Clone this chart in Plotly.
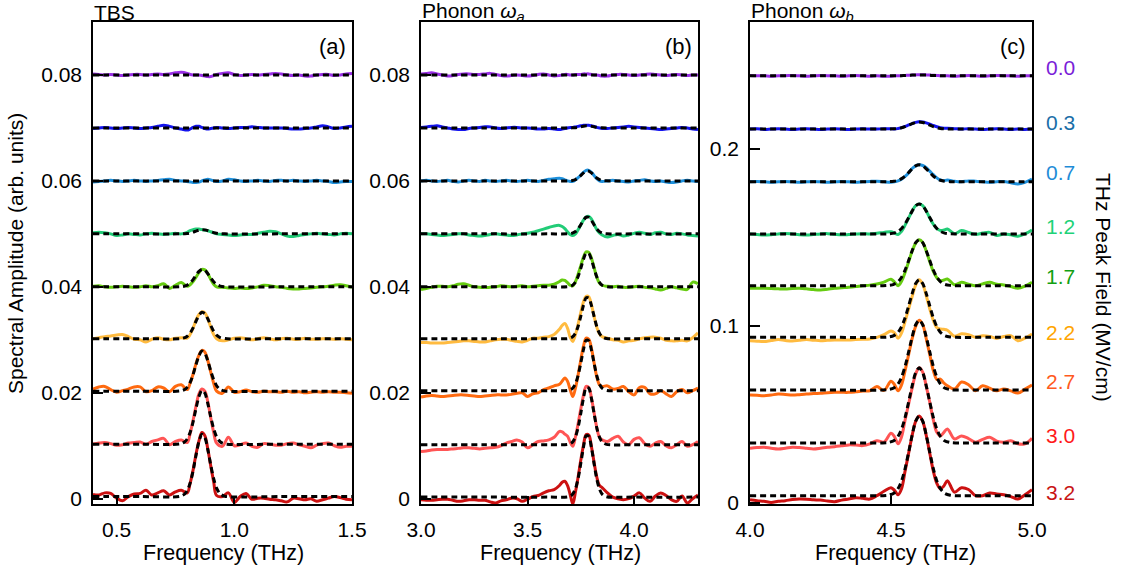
import plotly.graph_objects as go

FONT = "Liberation Sans, Arial, sans-serif"

# THz peak fields (MV/cm), bottom trace first
fields = ["3.2", "3.0", "2.7", "2.2", "1.7", "1.2", "0.7", "0.3", "0.0"]
line_colors = ["#cc1111", "#ff5555", "#ff6a10", "#ffbb40", "#66cc11",
               "#22cc77", "#1e90dc", "#1414ee", "#9a30e6"]
label_colors = ["#c81414", "#ff1a1a", "#ff5a1e", "#ffa500", "#12a012",
                "#1ed278", "#1e8cd7", "#1a6ea8", "#7a1ed8"]

# ---------------- Panel (a): TBS ----------------
xa = [0.400, 0.425, 0.450, 0.475, 0.500, 0.525, 0.550, 0.575, 0.600, 0.625,
      0.650, 0.675, 0.700, 0.725, 0.750, 0.775, 0.800,
      0.8125, 0.825, 0.8375, 0.850, 0.8625, 0.875, 0.8875, 0.900, 0.9125, 0.925,
      0.950, 0.975, 1.000, 1.025, 1.050, 1.075, 1.100, 1.125, 1.150, 1.175,
      1.200, 1.225, 1.250, 1.275, 1.300, 1.325, 1.350, 1.375, 1.400, 1.425,
      1.450, 1.475, 1.500]
offsets_a = [0.0004, 0.0103, 0.0203, 0.0302, 0.0400, 0.0500, 0.0600, 0.0700, 0.0800]
# deviations from the offset, units of 1e-4
a_32 = [4, 3, 7, 6, -3, -8, 0, 5, 6, 12, 3, 7, 11, 3, 9, 12, 7,
        25, 50, 80, 105, 121, 115, 90, 58, 28, 2,
        0, 7, -11, 0, 6, -5, -3, -3, -5, -6, -8, -10, -3, -4, -6, -4, -9, -6, -3, 0, -2, -5, -6]
a_30 = [0, 2, 3, 1, -2, -1, 2, 3, 4, 0, 5, 8, 11, -1, 5, 8, 3,
        20, 45, 72, 95, 104, 100, 80, 50, 22, 2,
        -4, 13, -3, -1, 2, -4, -6, 1, 0, -2, -2, 1, 2, -1, -4, -7, -2, 1, 2, -3, -6, -4, -4]
a_27 = [4, 8, 9, 3, -2, 1, 4, 8, 8, -1, 1, 8, 6, -1, 9, 12, 3,
        15, 32, 52, 68, 77, 74, 58, 36, 15, 0,
        -4, 8, -2, -1, 2, -1, -2, 0, -1, -1, -2, 0, -2, -1, -3, -2, -1, -2, -1, -2, -2, -3, -4]
a_22 = [0, 2, 4, 5, 7, 8, 4, -1, -2, -6, -1, 2, -1, -2, 1, 2, 1,
        8, 20, 35, 46, 51, 49, 38, 22, 8, 0,
        -4, -2, 1, 2, 0, -2, 0, 2, 0, -2, 0, 1, -1, -1, 1, -1, -1, 0, 0, -1, 0, -1, -2]
a_17 = [1, 2, 0, -1, 0, 1, 0, -1, 0, 2, 0, 2, 6, -3, 3, 8, 1,
        4, 10, 18, 27, 33, 32, 25, 14, 5, 0,
        -1, -2, -3, -2, -3, -2, 0, 3, 2, 0, -1, -3, -4, -4, -3, -2, -1, 0, 1, 3, 4, 2, -1]
a_12 = [2, 3, 2, 0, -3, -2, 0, -1, -2, 0, 1, 0, -1, 0, 1, 0, 3,
        6, 8, 9, 9, 8, 7, 6, 4, 2, 0,
        -1, -2, -3, -2, -1, -1, 1, 3, 5, 4, 0, -4, -5, -3, -1, 0, 1, 0, -1, -2, 0, 1, 0]
a_07 = [-2, -1, 0, 1, 0, -1, 0, 1, 0, -1, 0, 1, 2, 3, 1, 0, -1,
        -2, -3, -3, -2, 0, 2, 3, 2, 0, -1,
        0, 3, 2, 0, -1, 0, 1, 0, -1, 1, 1, 0, 1, 0, -1, 0, 1, 0, -1, -3, -2, -1, -1]
a_03 = [-1, 0, 1, 0, -1, 0, 1, 0, -1, 0, 1, 3, 5, 3, 0, -2, -4,
        -2, 1, 3, 3, 1, -1, -2, -1, 0, 1,
        0, -1, 0, 1, 1, 2, 1, 0, 0, 0, 0, -1, -2, -2, -1, 0, 2, 4, 2, -1, 0, 2, 3]
a_00 = [2, 1, 0, 1, 0, -1, 0, 1, 1, 0, 1, 2, 1, 2, 4, 5, 3,
        1, 0, 0, 0, -1, -2, -3, -3, -1, 1,
        3, 4, 1, -1, 0, 1, 0, 1, 2, 3, 2, 0, -1, 0, -2, -2, 0, 1, 1, -1, 0, 2, 3]
fit_xa = [0.40, 0.60, 0.77, 0.79, 0.80, 0.8125, 0.825, 0.8375, 0.85, 0.8625, 0.875,
          0.8875, 0.90, 0.9125, 0.925, 0.94, 0.96, 1.20, 1.50]
fit_shape_a = [0, 0, 0.005, 0.044, 0.095, 0.216, 0.41, 0.66, 0.88, 0.997, 0.946,
               0.755, 0.506, 0.286, 0.135, 0.044, 0.005, 0, 0]
fit_amp_a = [118, 102, 76, 50, 33, 8, 0, 0, 0]

# ---------------- Panel (b): Phonon wa ----------------
xb = [3.000, 3.025, 3.050, 3.075, 3.100, 3.125, 3.150, 3.175, 3.200, 3.225,
      3.250, 3.275, 3.300, 3.325, 3.350, 3.375, 3.400, 3.425, 3.450, 3.475,
      3.500, 3.525, 3.550, 3.575, 3.600,
      3.625, 3.650, 3.6625, 3.675, 3.6875, 3.700, 3.7125, 3.725, 3.7375, 3.750,
      3.7625, 3.775, 3.7875, 3.800, 3.8125, 3.825, 3.8375, 3.850,
      3.875, 3.900, 3.925, 3.950, 3.975, 4.000, 4.025, 4.050, 4.075, 4.100,
      4.125, 4.150, 4.175, 4.200, 4.225, 4.250, 4.275, 4.300]
offsets_b = [0.0003, 0.0102, 0.0204, 0.0302, 0.0400, 0.0500, 0.0600, 0.0700, 0.0800]
b_32 = [-5, -6, -6, -5, -4, -4, -6, -8, -7, -5, -5, -6, -6, -9, -11, -7, -5, -2, -3, -8, -4, 1, 3, 8, 12,
        14, 22, 28, 30, 22, 5, -13, 10, 38, 70, 98, 118, 117, 95, 65, 38, 22, 18,
        8, 0, -3, -5, -3, 2, 8, -2, -8, 2, 8, 3, -5, -8, 2, -11, -3, 4]
b_30 = [-13, -12, -10, -9, -9, -9, -8, -7, -6, -6, -7, -8, -7, -6, -5, -2, 3, 6, 9, 5, -6, 0, 6, 7, 9,
        14, 25, 24, 20, 16, 5, -3, 15, 40, 68, 93, 110, 108, 88, 60, 32, 14, 9,
        6, 12, 16, 5, 0, 10, 13, 2, -3, 3, 6, -2, -6, 0, 6, -3, 0, 6]
b_27 = [-12, -10, -9, -10, -11, -10, -9, -8, -8, -9, -10, -11, -10, -9, -8, -8, -8, -7, -5, -4, -11, -6, -4, 2, 5,
        9, 12, 18, 24, 18, 2, -11, 5, 30, 58, 84, 99, 97, 80, 52, 26, 11, 8,
        9, 3, 4, 8, -2, -8, 6, 6, -6, -6, 0, -6, -11, -2, 2, -4, 0, 5]
b_22 = [-7, -7, -8, -8, -8, -7, -6, -5, -4, -4, -5, -6, -6, -4, -2, -1, -1, -3, -5, -6, -3, 1, 1, 3, 4,
        8, 18, 25, 29, 20, 3, -5, 8, 28, 50, 70, 80, 79, 64, 42, 22, 9, 4,
        1, -2, -3, -6, -4, -3, 0, 2, 3, 3, 1, -3, -4, -4, -3, -4, 2, 11]
b_17 = [-5, -3, -1, 1, 1, 0, 2, 5, 6, 3, 0, -1, -1, -1, 0, 2, 1, 0, 1, 2, 0, 1, 2, 3, 3,
        5, 10, 13, 12, 8, 3, 2, 10, 24, 40, 56, 66, 65, 54, 36, 18, 7, 3,
        1, 0, 1, -1, -1, 0, 1, -1, -2, -4, -6, -3, 0, -2, -4, -5, 9, 6]
b_12 = [0, 0, -1, -2, -3, -2, -1, 0, 0, -2, -3, -4, -3, -1, 0, -1, -2, -3, -2, 0, 1, 3, 6, 9, 12,
        15, 16, 14, 10, 4, -1, -3, 0, 8, 17, 26, 32, 33, 28, 18, 8, 2, -2,
        -6, -3, -1, -4, -2, 1, 3, 1, -1, 2, 3, 0, -1, 1, 0, -2, -3, -4]
b_07 = [0, 1, 0, -1, 0, 1, -1, -2, 0, 1, 0, -1, 1, 0, -1, 0, 1, 0, -1, 0, 1, 0, -1, 1, 3,
        4, 5, 4, 2, 0, -1, -1, 2, 6, 11, 16, 20, 20, 16, 10, 4, 0, -1,
        0, 1, 0, -1, -2, 0, 1, 2, 0, -1, 0, -2, -3, -2, 0, 1, 0, -1]
b_03 = [1, 2, 3, 4, 2, 0, -2, -3, -3, -1, 0, 1, 2, 2, 0, -1, 0, 1, 1, 0, 0, -1, -2, -2, -1,
        -2, -3, -2, -1, 0, 1, 1, 2, 3, 4, 5, 5, 5, 4, 3, 1, 0, -1,
        -1, 0, 1, 2, 3, 2, 1, 0, -1, -2, -3, -2, -1, 0, 1, 0, -2, -3]
b_00 = [2, 3, 4, 2, 0, -2, -1, 1, 2, 2, 1, 1, 2, 3, 1, -1, -2, -1, 0, -1, -2, -1, 1, 2, 0,
        -2, -1, 0, 1, 1, 0, 0, 1, 1, 1, 2, 2, 2, 1, 0, 0, -1, -2,
        -2, 0, 1, 1, 0, -1, 0, 1, 2, 1, 0, -1, 0, 1, 0, -1, 0, 0]
fit_xb = [3.00, 3.30, 3.60, 3.69, 3.71, 3.725, 3.7375, 3.75, 3.7625, 3.775, 3.7875,
          3.80, 3.8125, 3.825, 3.8375, 3.85, 3.87, 4.00, 4.30]
fit_shape_b = [0, 0, 0, 0.005, 0.04, 0.135, 0.30, 0.54, 0.80, 0.98, 0.97,
               0.79, 0.53, 0.29, 0.13, 0.048, 0.006, 0, 0]
fit_amp_b = [118, 110, 97, 79, 65, 32, 19, 4, 0]

# ---------------- Panel (c): Phonon wb ----------------
xc = [4.000, 4.025, 4.050, 4.075, 4.100, 4.125, 4.150, 4.175, 4.200, 4.225,
      4.250, 4.275, 4.300, 4.325, 4.350, 4.375, 4.400, 4.425, 4.450, 4.475, 4.500,
      4.5125, 4.525, 4.5375, 4.550, 4.5625, 4.575, 4.5875, 4.600, 4.6125, 4.625,
      4.6375, 4.650, 4.6625, 4.675, 4.6875, 4.700,
      4.725, 4.750, 4.775, 4.800, 4.825, 4.850, 4.875, 4.900, 4.925, 4.950, 4.975, 5.000]
offsets_c = [0.0041, 0.0339, 0.0638, 0.0936, 0.1228, 0.1520, 0.1815, 0.2113, 0.2414]
# deviations from the offset, units of 1e-3
c_32 = [-2.3, -2.8, -3.2, -3.8, -3.2, -2.8, -2.2, -1.9, -2.0, -2.3, -2.5, -3.0, -3.4, -2.5, -1.9, -1.2, -1.5, -1.9, 0, 2.5, 4.5,
        3.0, 0.5, 4, 14, 24, 34, 42, 45, 42, 34, 24, 14, 7, 4, 5.5, 8.5,
        2.0, 4.5, 3.5, 0, 0, 1.5, 1.0, 0.5, -0.5, -1.9, 0.5, 3.4]
c_30 = [-3.0, -2.6, -2.4, -3.0, -3.4, -3.0, -2.4, -2.6, -3.0, -3.4, -3.0, -2.4, -2.1, -1.6, -1.1, -1.2, -1.5, -0.5, 1.3, 0.5, 5.5,
        3.5, -0.5, 3.5, 13, 22, 31, 39, 42.5, 40, 32, 23, 13, 6, 4, 6, 7.9,
        2.3, 4.0, 2.5, 0.4, 2.0, 3.2, 1.0, 0.4, 1.3, -0.5, -0.5, 2.6]
c_27 = [-2.8, -3.0, -3.2, -2.8, -2.3, -2.5, -2.8, -2.6, -2.3, -2.0, -1.8, -1.5, -1.3, -1.3, -1.3, -1.0, -0.6, -0.4, 2.0, -0.2, 5.0,
        3.0, -0.4, 3.0, 11, 20, 29, 36, 39.5, 37, 29, 20, 11, 6, 6.2, 4, 2.4,
        0.6, 4.5, 3.0, -0.4, 2.4, 1.0, -0.4, 0.6, -0.5, -1.7, 0.5, 2.8]
c_22 = [-1.9, -2.2, -2.4, -1.8, -1.3, -1.8, -2.1, -1.7, -1.3, -1.6, -1.9, -1.7, -1.5, -1.5, -1.5, -1.3, -1.1, -0.9, 0, 1.5, 3.6,
        2.5, -0.5, 2.5, 9, 16, 23, 29.5, 32.5, 30, 23.5, 16, 9.5, 5.5, 4.7, 4.5, 4.0,
        0.6, 2.0, 1.5, 0, 0.9, 0.5, -0.6, 0.5, 0.9, -1.9, -0.5, 1.9]
c_17 = [-1.5, -1.5, -1.5, -1.6, -1.8, -1.9, -1.6, -1.5, -1.8, -2.2, -2.4, -2.0, -1.5, -1.2, -0.9, -0.5, 0, 0.3, 0.9, 2.0, 3.6,
        2.0, 0, 2.5, 7.5, 13.5, 19.5, 24, 26, 24.5, 19.5, 13.5, 8, 4.5, 2.8, 3.2, 3.8,
        0.5, 1.9, 0.8, 0, 1.0, 1.9, 0.8, 0.4, -0.5, -1.5, -0.3, 1.9]
c_12 = [0, -0.3, -0.6, -0.4, 0, 0.3, 0, -0.4, -0.6, -0.3, 0, 0.2, -0.2, -0.5, -0.3, 0, 0.2, 0, 0.4, 0.9, 1.3,
        0.5, -0.3, 1.5, 5, 9, 13, 16, 17, 16, 13, 9, 5.5, 3, 2, 2.2, 2.8,
        0.2, 1.9, 0.8, -0.2, 0.5, 0.9, -0.8, 0, -0.5, -1.3, 0, 2.3]
c_07 = [0, 0.2, 0, -0.3, 0, 0.2, 0, -0.2, 0, 0.2, 0, -0.2, 0, 0.2, 0, -0.2, 0, 0.2, 0.3, 0, -0.2,
        0, 0.5, 1.5, 3, 5, 7.5, 9, 9.6, 9.2, 8, 6, 4, 2.2, 1.0, 0.6, 1.0,
        0.3, 0, 0.5, 0.3, 0, -0.3, 0, 0.2, -0.5, -1.2, -0.3, 1.5]
c_03 = [0, 0.2, -0.2, 0, 0.2, 0, -0.2, 0, 0.2, 0, -0.2, 0, 0.2, 0, -0.2, 0, 0.2, 0, 0, 0.2, 0.2,
        0, 0.3, 0.8, 1.5, 2.3, 3.1, 3.8, 4.1, 4.0, 3.5, 2.8, 2.0, 1.3, 0.8, 0.5, 0.4,
        0.2, 0, 0.2, 0, -0.2, 0, 0.2, 0, -0.2, 0, -0.2, 0]
c_00 = [0.2, 0, 0, -0.2, 0, 0, 0.2, 0, -0.2, 0, 0.2, 0, 0, -0.2, 0, 0.2, 0, -0.2, 0, -0.3, -0.2,
        0, 0, 0.1, 0.2, 0.3, 0.4, 0.5, 0.6, 0.6, 0.5, 0.4, 0.3, 0.2, 0, 0, 0,
        -0.2, 0, 0.2, 0, -0.2, 0, 0.2, 0, 0, -0.2, 0, 0]
fit_xc = [4.00, 4.25, 4.47, 4.49, 4.51, 4.525, 4.5375, 4.55, 4.5625, 4.575, 4.5875, 4.60,
          4.6125, 4.625, 4.6375, 4.65, 4.6625, 4.675, 4.69, 4.71, 4.73, 4.85, 5.00]
fit_shape_c = [0, 0, 0, 0.006, 0.03, 0.088, 0.184, 0.34, 0.545, 0.76, 0.935, 1.0,
               0.935, 0.76, 0.545, 0.34, 0.184, 0.088, 0.03, 0.006, 0, 0, 0]
fit_amp_c = [45, 42.5, 39.5, 32.5, 26, 17, 9.6, 4.0, 0.5]

# tick values / labels
xticks_a = [0.5, 1.0, 1.5]
xticks_b = [3.0, 3.5, 4.0]
xticks_c = [4.0, 4.5, 5.0]
yticks_ab = [0, 0.02, 0.04, 0.06, 0.08]
yticks_c = [0, 0.1, 0.2]

W, H = 1125, 574

def px(x):
    return x / W

def py(y):
    return 1 - y / H

panels = [
    dict(x=xa, vals=[a_32, a_30, a_27, a_22, a_17, a_12, a_07, a_03, a_00],
         offs=offsets_a, scale=1e-4, fx=fit_xa, fs=fit_shape_a, fa=fit_amp_a, ax="x", ay="y"),
    dict(x=xb, vals=[b_32, b_30, b_27, b_22, b_17, b_12, b_07, b_03, b_00],
         offs=offsets_b, scale=1e-4, fx=fit_xb, fs=fit_shape_b, fa=fit_amp_b, ax="x2", ay="y2"),
    dict(x=xc, vals=[c_32, c_30, c_27, c_22, c_17, c_12, c_07, c_03, c_00],
         offs=offsets_c, scale=1e-3, fx=fit_xc, fs=fit_shape_c, fa=fit_amp_c, ax="x3", ay="y3"),
]

fig = go.Figure()
for p in panels:
    for i in reversed(range(len(fields))):
        ys = [p["offs"][i] + v * p["scale"] for v in p["vals"][i]]
        fig.add_trace(go.Scatter(
            x=p["x"], y=ys, mode="lines", xaxis=p["ax"], yaxis=p["ay"],
            line=dict(color=line_colors[i], width=3, shape="spline", smoothing=1.0),
            hoverinfo="skip", showlegend=False))
        yf = [p["offs"][i] + s * p["fa"][i] * p["scale"] for s in p["fs"]]
        fig.add_trace(go.Scatter(
            x=p["fx"], y=yf, mode="lines", xaxis=p["ax"], yaxis=p["ay"],
            line=dict(color="black", width=3, dash="6px,4px", shape="spline", smoothing=0.8),
            hoverinfo="skip", showlegend=False))

common = dict(showline=True, linecolor="black", linewidth=1.5, mirror=True,
              ticks="inside", tickcolor="black", tickwidth=1.5,
              showgrid=False, zeroline=False, automargin=False,
              tickfont=dict(size=21, color="black", family=FONT))

ydom = [py(504), py(22)]
fig.update_layout(
    template="none",
    width=W, height=H, margin=dict(l=0, r=0, t=0, b=0, pad=0), autosize=False,
    paper_bgcolor="white", plot_bgcolor="white",
    font=dict(family=FONT, size=21, color="black"),
    showlegend=False,
    xaxis=dict(domain=[px(93), px(352)], anchor="y", range=[0.4, 1.5],
               tickvals=xticks_a, ticktext=["0.5", "1.0", "1.5"], ticklen=8,
               ticklabelstandoff=6, **common),
    yaxis=dict(domain=ydom, anchor="x", range=[-0.001, 0.090],
               tickvals=yticks_ab, ticktext=["0", "0.02", "0.04", "0.06", "0.08"],
               ticklen=10, ticklabelstandoff=5, **common),
    xaxis2=dict(domain=[px(421), px(698)], anchor="y2", range=[3.0, 4.3],
                tickvals=xticks_b, ticktext=["3.0", "3.5", "4.0"], ticklen=8,
                ticklabelstandoff=6, **common),
    yaxis2=dict(domain=ydom, anchor="x2", range=[-0.001, 0.090],
                tickvals=yticks_ab, ticktext=["0", "0.02", "0.04", "0.06", "0.08"],
                ticklen=10, ticklabelstandoff=5, **common),
    xaxis3=dict(domain=[px(750), px(1032)], anchor="y3", range=[4.0, 5.0],
                tickvals=xticks_c, ticktext=["4.0", "4.5", "5.0"], ticklen=8,
                ticklabelstandoff=6, **common),
    yaxis3=dict(domain=ydom, anchor="x3", range=[-0.0006, 0.2718],
                tickvals=yticks_c, ticktext=["0", "0.1", "0.2"],
                ticklen=10, ticklabelstandoff=5, **common),
)

ann = []
def add_text(text, x, y, xanchor="center", yanchor="middle", size=21, color="black", angle=0):
    ann.append(dict(text=text, x=px(x), y=py(y), xref="paper", yref="paper",
                    xanchor=xanchor, yanchor=yanchor, showarrow=False, textangle=angle,
                    font=dict(size=size, color=color, family=FONT)))

# panel titles
add_text("TBS", 92, 12, xanchor="left")
add_text("Phonon <i>ω<sub>a</sub></i>", 420, 12, xanchor="left")
add_text("Phonon <i>ω<sub>b</sub></i>", 749, 12, xanchor="left")
# panel letters
add_text("(a)", 348, 46, xanchor="right", size=22)
add_text("(b)", 694, 46, xanchor="right", size=22)
add_text("(c)", 1028, 46, xanchor="right", size=22)
# axis titles
for cx in (223, 560, 895):
    add_text("Frequency (THz)", cx, 553, size=21.5)
add_text("Spectral Amplitude (arb. units)", 16, 254, angle=-90)
add_text("THz Peak Field (MV/cm)", 1104, 287, angle=90)
# field labels
label_y = [492, 435, 381, 332, 277, 227, 172, 122, 67]
for i, f in enumerate(fields):
    add_text(f, 1044, label_y[i], xanchor="left", size=21, color=label_colors[i])

fig.update_layout(annotations=ann)
fig.write_html("out.html", config={"displayModeBar": False},
               post_script="document.body.style.margin='0px';")
